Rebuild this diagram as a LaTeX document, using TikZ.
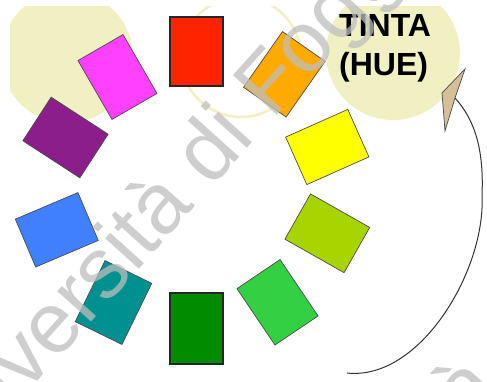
\documentclass[tikz,border=0pt]{standalone}
\usepackage{fontspec}
\setmainfont{Liberation Sans}
\definecolor{pale}{RGB}{240,240,194}
\definecolor{cRed}{RGB}{255,36,0}
\definecolor{cOrange}{RGB}{255,170,0}
\definecolor{cYellow}{RGB}{255,255,0}
\definecolor{cYGreen}{RGB}{168,212,0}
\definecolor{cLGreen}{RGB}{52,208,68}
\definecolor{cDGreen}{RGB}{0,140,0}
\definecolor{cTeal}{RGB}{0,144,144}
\definecolor{cBlue}{RGB}{64,128,255}
\definecolor{cPurple}{RGB}{140,30,140}
\definecolor{cMagenta}{RGB}{255,64,255}
\definecolor{cTan}{RGB}{212,192,152}
\definecolor{wmgray}{RGB}{190,190,190}
\begin{document}
\begin{tikzpicture}[x=1pt,y=-1pt,
  swatch/.style={draw=black!70, line width=0.7pt, inner sep=0pt, minimum width=52pt, minimum height=68pt},
  boldswatch/.style={swatch, draw=black!85, line width=1.2pt},
  wm/.style={text=wmgray, opacity=0.75, inner sep=0pt, anchor=base west, rotate=48, font=\fontsize{86}{86}\selectfont},
  label/.style={inner sep=0pt, anchor=base west, font=\bfseries\fontsize{32}{36}\selectfont}]
\useasboundingbox (0,0) rectangle (487,382);
\fill[white] (0,0) rectangle (487,382);
\begin{scope}
  \clip (10,7) rectangle (487,382);
  \fill[pale] (67,57) circle (66);
  \draw[pale, line width=2.5pt] (241,57) circle (60);
  \fill[pale] (393,53) circle (67);
\end{scope}
% swatches
\node[boldswatch, fill=cRed, minimum width=53pt, minimum height=69pt] (r1) at (196.5,51.5) {};
\node[swatch, fill=cOrange, rotate=-35] (r2) at (284.3,74.3) {};
\node[swatch, fill=cYellow, rotate=-66] (r3) at (327.3,147) {};
\node[swatch, fill=cYGreen, rotate=60.5] (r4) at (327.3,233.3) {};
\node[swatch, fill=cLGreen, rotate=34] (r5) at (277.5,302.3) {};
\node[boldswatch, fill=cDGreen, minimum width=53pt, minimum height=71pt] (r6) at (196.5,328.5) {};
\node[swatch, fill=cTeal, rotate=-26] (r7) at (113.5,302.5) {};
\node[swatch, fill=cBlue, rotate=-67] (r8) at (56.8,229.8) {};
\node[swatch, fill=cPurple, rotate=57] (r9) at (65.5,137.5) {};
\node[swatch, fill=cMagenta, rotate=30] (r10) at (117.5,77) {};
% label
\node[label] (t1) at (339,37) {TINTA};
\node[label] (t2) at (339,76) {(HUE)};
% arrow
\coordinate (s) at (347,373);
\coordinate (m) at (482,195);
\coordinate (notch) at (455,98);
\coordinate (tip) at (465,69);
\coordinate (barbL) at (442,93);
\coordinate (barbB) at (445,131);
\draw[black!80, line width=1pt] (s) .. controls (420,381) and (486,270) .. (m)
  .. controls (484,150) and (475,120) .. (notch);
\filldraw[fill=cTan, draw=black!70, line width=0.7pt] (tip) -- (barbL) -- (barbB) -- (notch) -- cycle;
% watermark
\begin{scope}
  \clip (0,0) rectangle (487,382);
  \node[wm] (w1) at (-60,490) {Università di Foggia};
  \node[wm] (w2) at (246,674) {Università di Foggia};
\end{scope}
\end{tikzpicture}
\end{document}
